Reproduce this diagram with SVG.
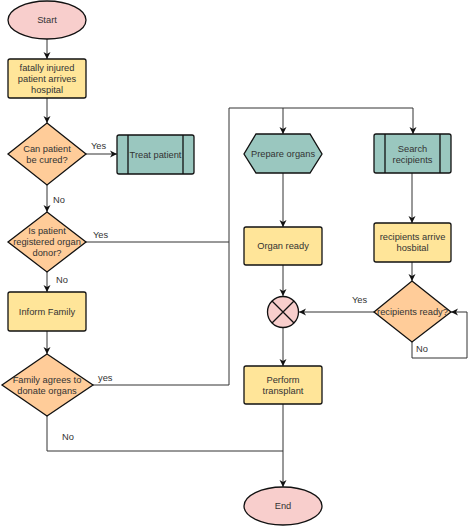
<svg xmlns="http://www.w3.org/2000/svg" width="474" height="526" viewBox="0 0 474 526">
<defs>
<style>
.t{font-family:"Liberation Sans",Arial,sans-serif;font-size:9.3px;fill:#333;text-anchor:middle;dominant-baseline:central}
.l{font-family:"Liberation Sans",Arial,sans-serif;font-size:9.3px;fill:#333;dominant-baseline:central}
.term{fill:#f8cecc;stroke:#111;stroke-width:1.3}
.proc{fill:#ffe599;stroke:#111;stroke-width:1.3}
.dec{fill:#ffcc99;stroke:#111;stroke-width:1.3}
.sub{fill:#9ac7bf;stroke:#111;stroke-width:1.3}
.c{fill:none;stroke:#333;stroke-width:1}
</style>
<marker id="a" markerWidth="8" markerHeight="8" refX="7" refY="4" orient="auto" markerUnits="userSpaceOnUse">
<path d="M0,0.5 L7,4 L0,7.5 L2,4 Z" fill="#111"/>
</marker>
</defs>
<rect width="474" height="526" fill="#fff"/>
<g id="connectors">
<path class="c" d="M47,39 V59" marker-end="url(#a)"/>
<path class="c" d="M47,98 V123" marker-end="url(#a)"/>
<path class="c" d="M86,154 H117" marker-end="url(#a)"/>
<path class="c" d="M47,185 V212" marker-end="url(#a)"/>
<path class="c" d="M47,272 V292" marker-end="url(#a)"/>
<path class="c" d="M47,331 V354" marker-end="url(#a)"/>
<path class="c" d="M86,242 H229"/>
<path class="c" d="M93,385 H229 V108 H413 V134" marker-end="url(#a)"/>
<path class="c" d="M283,108 V134" marker-end="url(#a)"/>
<path class="c" d="M283,173 V227" marker-end="url(#a)"/>
<path class="c" d="M412,173 V223" marker-end="url(#a)"/>
<path class="c" d="M412,262 V281" marker-end="url(#a)"/>
<path class="c" d="M283,265 V296" marker-end="url(#a)"/>
<path class="c" d="M374,312 H299" marker-end="url(#a)"/>
<path class="c" d="M412,342 V358 H467 V312 H451" marker-end="url(#a)"/>
<path class="c" d="M283,328 V366" marker-end="url(#a)"/>
<path class="c" d="M283,404 V487" marker-end="url(#a)"/>
<path class="c" d="M47,416 V451 H283"/>
<text class="l" x="91" y="146">Yes</text>
<text class="l" x="53" y="200">No</text>
<text class="l" x="93" y="235">Yes</text>
<text class="l" x="56" y="280">No</text>
<text class="l" x="98" y="378">yes</text>
<text class="l" x="62" y="437">No</text>
<text class="l" x="352" y="300">Yes</text>
<text class="l" x="416" y="349">No</text>
</g>
<g id="start"><ellipse class="term" cx="47" cy="20" rx="39" ry="19"/><text class="t" x="47" y="20">Start</text></g>
<g id="arrives"><rect class="proc" x="8" y="59" width="78" height="39" rx="2"/><text class="t" x="47" y="68">fatally injured</text><text class="t" x="47" y="79">patient arrives</text><text class="t" x="47" y="90">hospital</text></g>
<g id="cured"><path class="dec" d="M47,123 L86,154 L47,185 L8,154 Z"/><text class="t" x="47" y="148.5">Can patient</text><text class="t" x="47" y="159.5">be cured?</text></g>
<g id="treat"><rect class="sub" x="117" y="135" width="77" height="39" rx="2"/><path class="c" d="M128,135 V174 M183,135 V174" style="stroke:#111;stroke-width:1.3"/><text class="t" x="155.5" y="154.5">Treat patient</text></g>
<g id="donor"><path class="dec" d="M47,212 L86,242 L47,272 L8,242 Z"/><text class="t" x="47" y="231">Is patient</text><text class="t" x="47" y="242">registered organ</text><text class="t" x="47" y="253">donor?</text></g>
<g id="inform"><rect class="proc" x="8" y="292" width="78" height="39" rx="2"/><text class="t" x="47" y="311.5">Inform Family</text></g>
<g id="agrees"><path class="dec" d="M47,354 L93,385 L47,416 L2,385 Z"/><text class="t" x="47" y="379.5">Family agrees to</text><text class="t" x="47" y="390.5">donate organs</text></g>
<g id="prepare"><path class="sub" d="M256,134 H310 L322,154 L310,173 H256 L244,154 Z"/><text class="t" x="283" y="154">Prepare organs</text></g>
<g id="search"><rect class="sub" x="374" y="134" width="77" height="39" rx="2"/><path class="c" d="M385,134 V173 M440,134 V173" style="stroke:#111;stroke-width:1.3"/><text class="t" x="412.5" y="148.5">Search</text><text class="t" x="412.5" y="159.5">recipients</text></g>
<g id="ready"><rect class="proc" x="244" y="227" width="78" height="38" rx="2"/><text class="t" x="283" y="246">Organ ready</text></g>
<g id="recarrive"><rect class="proc" x="374" y="223" width="77" height="39" rx="2"/><text class="t" x="412.5" y="237">recipients arrive</text><text class="t" x="412.5" y="248">hosbital</text></g>
<g id="recready"><path class="dec" d="M412,281 L451,312 L412,342 L374,312 Z"/><text class="t" x="412.5" y="311.5">recipients ready?</text></g>
<g id="join"><circle class="term" cx="283" cy="312" r="15.5"/><path d="M272,301 L294,323 M294,301 L272,323" stroke="#111" stroke-width="1.3"/></g>
<g id="perform"><rect class="proc" x="244" y="366" width="78" height="38" rx="2"/><text class="t" x="283" y="379.5">Perform</text><text class="t" x="283" y="390.5">transplant</text></g>
<g id="end"><ellipse class="term" cx="283" cy="506" rx="39" ry="19"/><text class="t" x="283" y="506">End</text></g>
</svg>
